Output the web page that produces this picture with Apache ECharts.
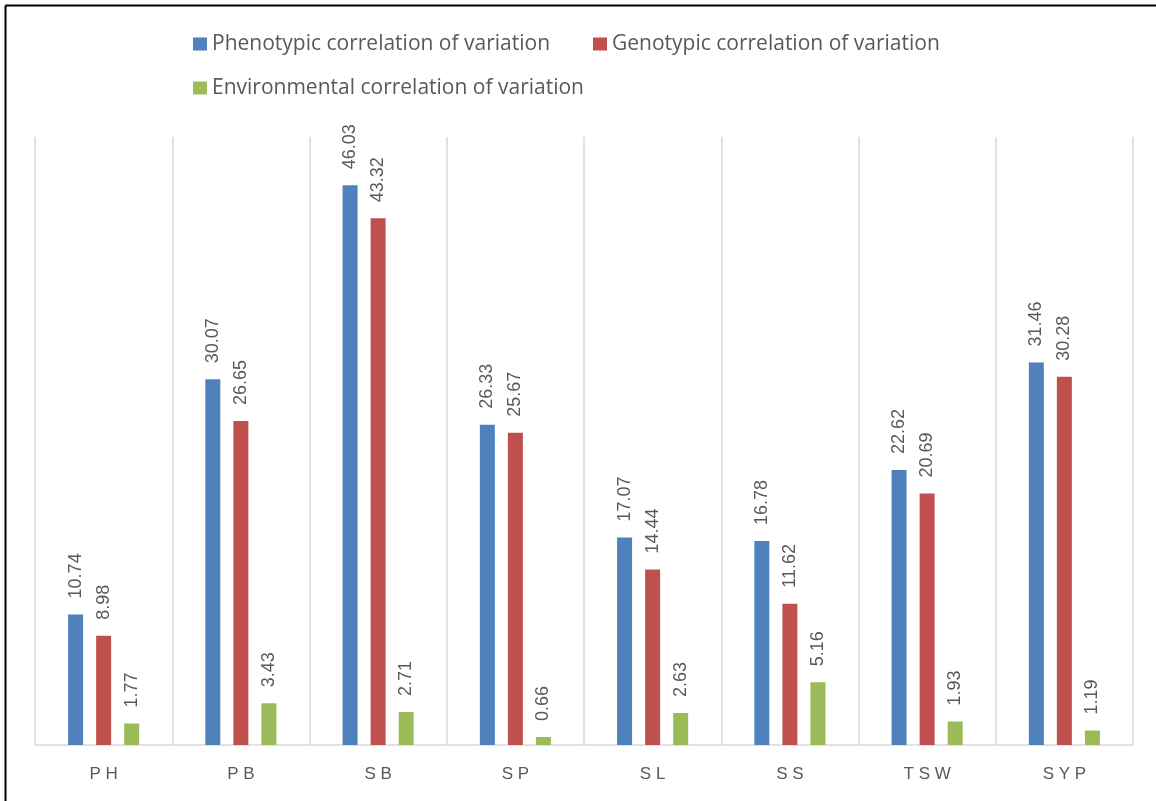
<!DOCTYPE html>
<html>
<head>
<meta charset="utf-8">
<script src="https://cdn.jsdelivr.net/npm/echarts@6/dist/echarts.min.js"></script>
<style>
  html, body { margin: 0; padding: 0; background: #fff; }
  #chart { width: 1156px; height: 801px; }
</style>
</head>
<body>
<div id="chart"></div>
<script>
// Traits
const categories = ['PH', 'PB', 'SB', 'SP', 'SL', 'SS', 'TSW', 'SYP'];

// Correlation of variation per trait
const phenotypic = [10.74, 30.07, 46.03, 26.33, 17.07, 16.78, 22.62, 31.46];
const genotypic = [8.98, 26.65, 43.32, 25.67, 14.44, 11.62, 20.69, 30.28];
const environmental = [1.77, 3.43, 2.71, 0.66, 2.63, 5.16, 1.93, 1.19];

const seriesNames = [
  'Phenotypic correlation of variation',
  'Genotypic correlation of variation',
  'Environmental correlation of variation'
];
const colors = ['#4F81BD', '#C0504D', '#9BBB59'];

const FONT = '"Liberation Sans", Arial, sans-serif';
const LEGEND_FONT = '"Open Sans", "Liberation Sans", sans-serif';
const TEXT = '#595959';

const chart = echarts.init(document.getElementById('chart'), null, { renderer: 'canvas' });

const legendBase = {
  left: 193,
  padding: 0,
  orient: 'horizontal',
  itemWidth: 14,
  itemHeight: 13,
  itemGap: 43,
  icon: 'rect',
  textStyle: { fontFamily: LEGEND_FONT, fontSize: 21, color: TEXT, lineHeight: 24 }
};

function barSeries(idx, values) {
  return {
    name: seriesNames[idx],
    type: 'bar',
    data: values,
    barWidth: 15,
    barGap: '87%',
    itemStyle: { color: colors[idx] },
    label: {
      show: true,
      position: 'top',
      distance: 16,
      rotate: 90,
      align: 'left',
      verticalAlign: 'middle',
      fontFamily: FONT,
      fontSize: 18,
      color: TEXT,
      formatter: p => p.value.toFixed(2)
    }
  };
}

chart.setOption({
  backgroundColor: '#fff',
  animation: false,
  legend: [
    Object.assign({}, legendBase, { top: 32, data: [seriesNames[0], seriesNames[1]] }),
    Object.assign({}, legendBase, { top: 76, data: [seriesNames[2]] })
  ],
  grid: { left: 35, right: 23, top: 137, bottom: 56, containLabel: false },
  xAxis: {
    type: 'category',
    data: categories,
    axisLine: { show: true, lineStyle: { color: '#D9D9D9', width: 1.5 } },
    axisTick: { show: false },
    splitLine: { show: true, lineStyle: { color: '#D9D9D9', width: 1.5 } },
    axisLabel: {
      margin: 21,
      fontFamily: FONT,
      fontSize: 17,
      color: TEXT,
      formatter: v => v.split('').join(' ')
    }
  },
  yAxis: {
    type: 'value',
    min: 0,
    max: 50,
    interval: 10,
    show: false,
    splitLine: { show: false }
  },
  series: [
    barSeries(0, phenotypic),
    barSeries(1, genotypic),
    barSeries(2, environmental)
  ],
  graphic: [
    { type: 'line', shape: { x1: 5.5, y1: 5.5, x2: 1156, y2: 5.5 }, style: { stroke: '#000', lineWidth: 2 } },
    { type: 'line', shape: { x1: 5.5, y1: 5.5, x2: 5.5, y2: 801 }, style: { stroke: '#000', lineWidth: 2 } }
  ]
});
</script>
</body>
</html>
